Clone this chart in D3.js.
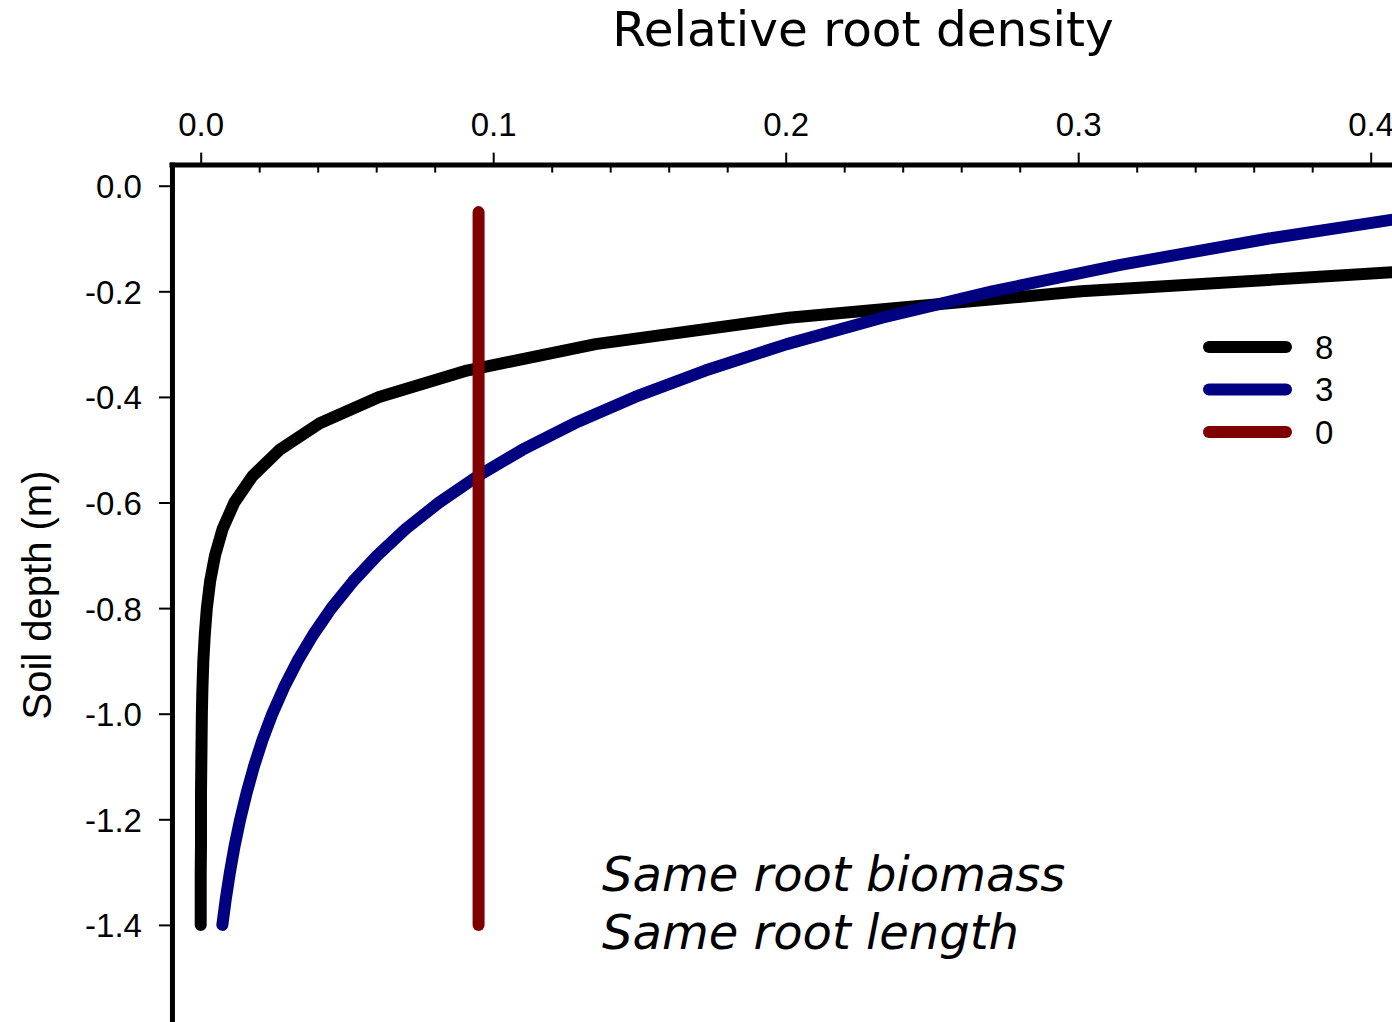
<!DOCTYPE html>
<html>
<head>
<meta charset="utf-8">
<script src="https://cdn.jsdelivr.net/npm/d3@7"></script>
<style>
  html, body { margin: 0; padding: 0; background: #fff; }
  svg { display: block; }
</style>
</head>
<body>
<script>
// Soil depth of each layer (m)
const depths = [-0.05, -0.10, -0.15, -0.20, -0.25, -0.30, -0.35, -0.40, -0.45, -0.50,
                -0.55, -0.60, -0.65, -0.70, -0.75, -0.80, -0.85, -0.90, -0.95, -1.00,
                -1.05, -1.10, -1.15, -1.20, -1.25, -1.30, -1.35, -1.40];

// Relative root density for each profile
const density8 = [0.998, 0.669, 0.449, 0.301, 0.201, 0.135, 0.091, 0.061, 0.0407, 0.0270,
                  0.0177, 0.0115, 0.0075, 0.0049, 0.0032, 0.0021, 0.0014, 0.0009, 0.0006, 0.0004,
                  0.0003, 0.0002, 0.0001, 0.0001, 0.0001, 0.0000, 0.0000, 0.0000];
const density3 = [0.4243, 0.3652, 0.3144, 0.2706, 0.2329, 0.2004, 0.1725, 0.1485, 0.1278, 0.1100,
                  0.0947, 0.0815, 0.0701, 0.0604, 0.0520, 0.0447, 0.0385, 0.0331, 0.0285, 0.0245,
                  0.0211, 0.0182, 0.0157, 0.0135, 0.0116, 0.0100, 0.0086, 0.0074];
const density0 = [0.095, 0.095, 0.095, 0.095, 0.095, 0.095, 0.095, 0.095, 0.095, 0.095,
                  0.095, 0.095, 0.095, 0.095, 0.095, 0.095, 0.095, 0.095, 0.095, 0.095,
                  0.095, 0.095, 0.095, 0.095, 0.095, 0.095, 0.095, 0.095];

const seriesNames = ["8", "3", "0"];
const seriesColors = ["#000000", "#000080", "#800000"];

const xMajorTicks = [0, 0.1, 0.2, 0.3, 0.4];
const xMinorTicks = [0.02, 0.04, 0.06, 0.08, 0.12, 0.14, 0.16, 0.18, 0.22, 0.24, 0.26, 0.28,
                     0.32, 0.34, 0.36, 0.38, 0.42, 0.44];
const yTicks = [0, -0.2, -0.4, -0.6, -0.8, -1.0, -1.2, -1.4];

const W = 1392, H = 1022;
const tickFont = "'Liberation Sans', Arial, sans-serif";
const titleFont = "'DejaVu Sans', Verdana, sans-serif";
const tickSize = 33;

const svg = d3.select("body").append("svg")
  .attr("width", W).attr("height", H)
  .attr("viewBox", `0 0 ${W} ${H}`);

svg.append("rect").attr("width", W).attr("height", H).attr("fill", "#fff");

const x = d3.scaleLinear().domain([-0.01, 0.45]).range([171.45, 1516.95]);
const y = d3.scaleLinear().domain([0.04, -1.6]).range([164.6, 1030.5]);

const fmt = d => d.toFixed(1);

// Top x axis: major ticks outward with labels
const xAxisG = svg.append("g").attr("transform", `translate(0,${y(0.04)})`)
  .call(d3.axisTop(x).tickValues(xMajorTicks).tickFormat(fmt)
        .tickSizeInner(12).tickSizeOuter(0).tickPadding(17));
// Minor ticks pointing into the plot
const xMinorG = svg.append("g").attr("transform", `translate(0,${y(0.04)})`)
  .call(d3.axisBottom(x).tickValues(xMinorTicks).tickFormat("")
        .tickSizeInner(8).tickSizeOuter(0));
xMinorG.select(".domain").remove();

// Left y axis
const yAxisG = svg.append("g").attr("transform", `translate(${x(-0.01) + 0.5},0)`)
  .call(d3.axisLeft(y).tickValues(yTicks).tickFormat(fmt)
        .tickSizeInner(13).tickSizeOuter(0).tickPadding(17));

[xAxisG, yAxisG].forEach(g => {
  g.select(".domain").attr("stroke", "#000").attr("stroke-width", 5)
    .attr("stroke-linecap", "square");
  g.selectAll(".tick text").attr("font-family", tickFont).attr("font-size", tickSize)
    .attr("fill", "#000");
});
yAxisG.selectAll(".tick text").attr("dy", "0.36em");
[xAxisG, xMinorG, yAxisG].forEach(g => {
  g.selectAll(".tick line").attr("stroke", "#000").attr("stroke-width", 2);
});

// Titles
svg.append("text")
  .attr("x", 863).attr("y", 46)
  .attr("text-anchor", "middle")
  .attr("font-family", titleFont).attr("font-size", 48.5)
  .text("Relative root density");

svg.append("text")
  .attr("transform", `translate(51,595) rotate(-90)`)
  .attr("text-anchor", "middle")
  .attr("font-family", tickFont).attr("font-size", 40)
  .text("Soil depth (m)");

// Root density profiles
const profiles = [density8, density3, density0].map((vals, i) => ({
  name: seriesNames[i],
  color: seriesColors[i],
  points: depths.map((d, j) => ({ depth: d, value: vals[j] }))
}));

const line = d3.line().x(d => x(d.value)).y(d => y(d.depth));

svg.append("g").selectAll("path").data(profiles).join("path")
  .attr("d", d => line(d.points))
  .attr("fill", "none")
  .attr("stroke", d => d.color)
  .attr("stroke-width", 12)
  .attr("stroke-linecap", "round")
  .attr("stroke-linejoin", "round");

// Legend
const legend = svg.append("g").attr("transform", "translate(1209,347)");
const items = legend.selectAll("g").data(profiles).join("g")
  .attr("transform", (d, i) => `translate(0,${i * 42.5})`);
items.append("line")
  .attr("x1", 0).attr("x2", 77).attr("y1", 0).attr("y2", 0)
  .attr("stroke", d => d.color).attr("stroke-width", 12)
  .attr("stroke-linecap", "round");
items.append("text")
  .attr("x", 106).attr("y", 0).attr("dy", "0.36em")
  .attr("font-family", tickFont).attr("font-size", tickSize)
  .text(d => d.name);

// Annotation
const note = svg.append("text")
  .attr("font-family", titleFont).attr("font-size", 48)
  .attr("font-style", "italic");
note.append("tspan").attr("x", 602).attr("y", 891).text("Same root biomass");
note.append("tspan").attr("x", 602).attr("y", 949).text("Same root length");
</script>
</body>
</html>
